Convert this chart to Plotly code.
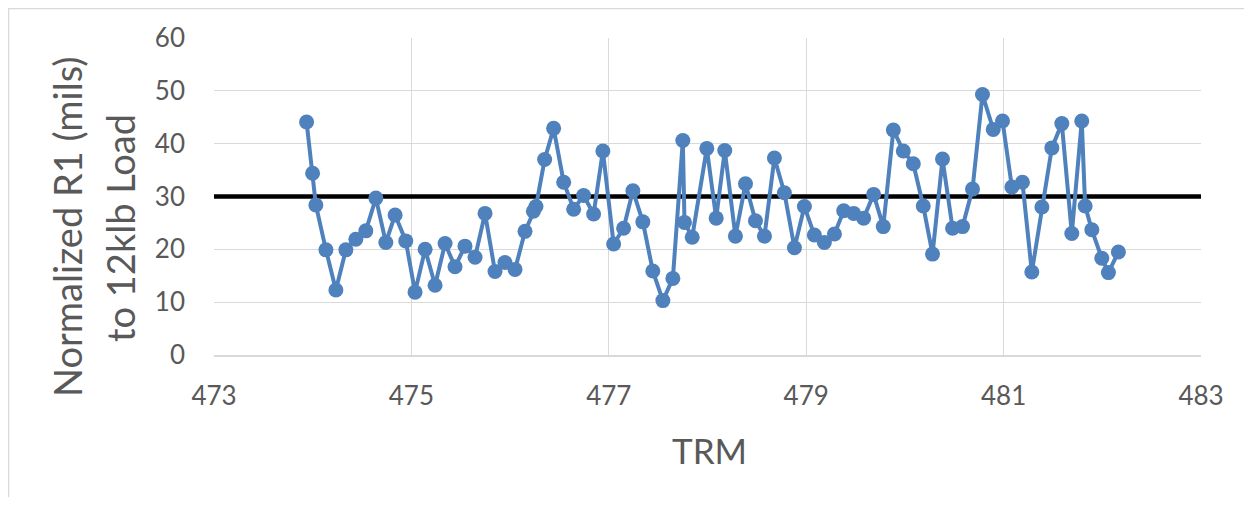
import plotly.graph_objects as go

# TRM positions and normalized R1 values
trm = [473.938, 473.999, 474.032, 474.134, 474.235, 474.336, 474.437, 474.538, 474.640, 474.741,
       474.835, 474.943, 475.037, 475.139, 475.240, 475.341, 475.442, 475.543, 475.645, 475.746,
       475.847, 475.948, 476.050, 476.151, 476.236, 476.262, 476.350, 476.441, 476.543, 476.644,
       476.745, 476.846, 476.940, 477.049, 477.150, 477.244, 477.345, 477.446, 477.548, 477.649,
       477.750, 477.767, 477.845, 477.993, 478.088, 478.175, 478.283, 478.385, 478.486, 478.577,
       478.678, 478.779, 478.881, 478.982, 479.083, 479.184, 479.286, 479.380, 479.481, 479.582,
       479.683, 479.781, 479.883, 479.984, 480.085, 480.186, 480.280, 480.381, 480.483, 480.584,
       480.685, 480.786, 480.895, 480.989, 481.084, 481.191, 481.286, 481.388, 481.489, 481.590,
       481.691, 481.792, 481.826, 481.894, 481.995, 482.062, 482.163]
r1 = [44.1, 34.4, 28.4, 19.9, 12.3, 19.9, 21.9, 23.5, 29.7, 21.3,
      26.5, 21.6, 11.9, 20.0, 13.2, 21.1, 16.7, 20.6, 18.5, 26.8,
      15.8, 17.5, 16.2, 23.4, 27.2, 28.1, 37.0, 42.9, 32.7, 27.6,
      30.2, 26.7, 38.6, 21.0, 24.0, 31.1, 25.2, 15.9, 10.3, 14.5,
      40.6, 25.1, 22.3, 39.1, 25.9, 38.7, 22.5, 32.4, 25.4, 22.5,
      37.3, 30.7, 20.3, 28.1, 22.7, 21.3, 22.9, 27.3, 26.8, 25.9,
      30.4, 24.3, 42.6, 38.6, 36.2, 28.2, 19.1, 37.1, 24.0, 24.3,
      31.4, 49.3, 42.7, 44.3, 31.8, 32.7, 15.7, 28.0, 39.2, 43.8,
      23.0, 44.3, 28.2, 23.7, 18.3, 15.6, 19.5]

threshold_x = [473, 483]
threshold_y = [30, 30]

x_ticks = [473, 475, 477, 479, 481, 483]
y_ticks = [0, 10, 20, 30, 40, 50, 60]

FONT = "Lato"
TXT = "#595959"
GRID = "#D9D9D9"

# page body has an 8px margin; work in screen pixels and convert
OFF = 8
W, H = 1252 - 2 * OFF, 505 - 2 * OFF
PL, PR, PT, PB = 214, 1201, 38, 355  # plot area in screen px

L = PL - OFF
R = W - (PR - OFF)
T = PT - OFF
B = H - (PB - OFF)
pw, ph = PR - PL, PB - PT

def px_x(px):
    return (px - PL) / pw

def px_y(py):
    return (PB - py) / ph

fig = go.Figure()
fig.add_trace(go.Scatter(x=threshold_x, y=threshold_y, mode="lines",
                         line=dict(color="black", width=4.5), showlegend=False, cliponaxis=False))
fig.add_trace(go.Scatter(x=trm, y=r1, mode="lines+markers",
                         line=dict(color="#4F81BD", width=4),
                         marker=dict(color="#4F81BD", size=15),
                         showlegend=False))

fig.update_layout(
    width=W, height=H,
    margin=dict(l=L, r=R, t=T, b=B, pad=0),
    paper_bgcolor="white", plot_bgcolor="white",
    font=dict(family=FONT, color=TXT),
    xaxis=dict(range=[473, 483], tickvals=x_ticks, ticktext=[str(v) for v in x_ticks],
               showgrid=True, gridcolor=GRID, gridwidth=1, zeroline=False,
               showline=True, linecolor=GRID, linewidth=1.5,
               tickfont=dict(family=FONT, size=26, color=TXT), ticks="", ticklabelstandoff=17),
    yaxis=dict(range=[0, 60], tickvals=y_ticks,
               showgrid=True, gridcolor=GRID, gridwidth=1, zeroline=False,
               showline=False,
               tickfont=dict(family=FONT, size=26, color=TXT), ticks="", ticklabelstandoff=28),
    shapes=[dict(type="rect", xref="paper", yref="paper",
                 x0=px_x(OFF + 0.5), x1=px_x(1300), y0=px_y(600), y1=px_y(OFF + 0.5),
                 line=dict(color=GRID, width=1.5), fillcolor="rgba(0,0,0,0)", layer="below")],
    annotations=[
        dict(text="TRM", xref="paper", yref="paper", x=px_x(709), y=px_y(450),
             showarrow=False, font=dict(family=FONT, size=35, color=TXT),
             xanchor="center", yanchor="middle"),
        dict(text="Normalized R1 (mils)", xref="paper", yref="paper", x=px_x(67), y=px_y(227),
             showarrow=False, textangle=-90, font=dict(family=FONT, size=38, color=TXT),
             xanchor="center", yanchor="middle"),
        dict(text="to 12klb Load", xref="paper", yref="paper", x=px_x(120), y=px_y(228),
             showarrow=False, textangle=-90, font=dict(family=FONT, size=38, color=TXT),
             xanchor="center", yanchor="middle"),
    ],
)

fig.write_html("out.html")
